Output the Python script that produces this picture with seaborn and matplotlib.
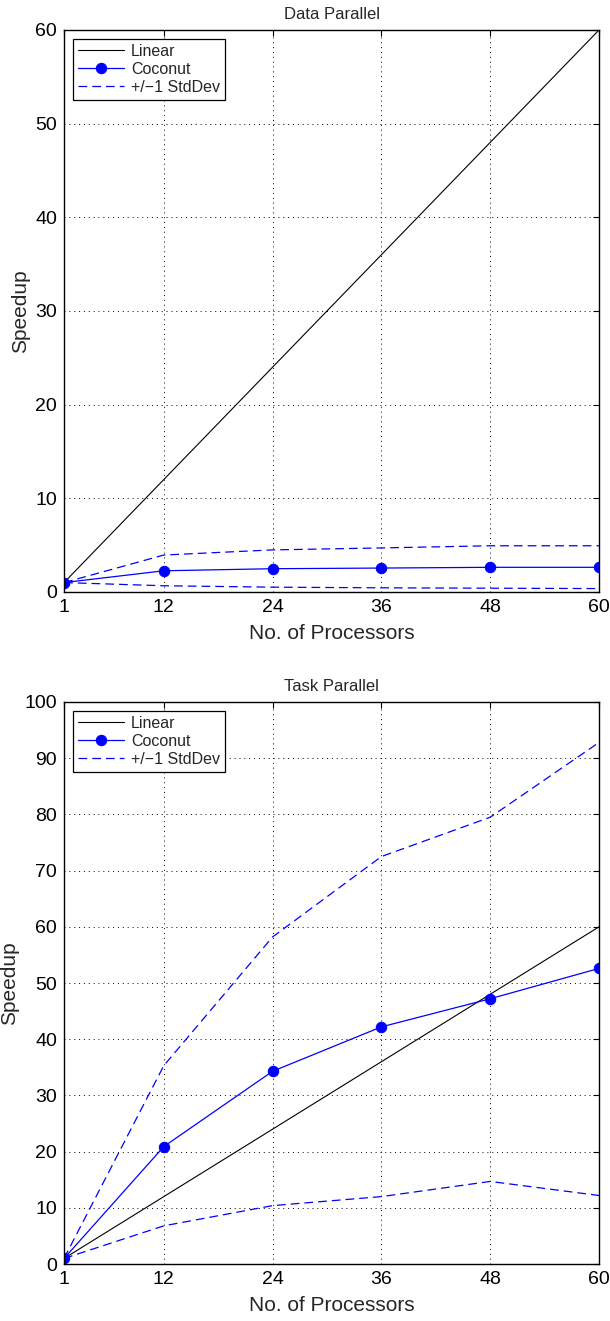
import numpy as np
import pandas as pd
import matplotlib
matplotlib.use("Agg")
import matplotlib.pyplot as plt
import seaborn as sns

# Processor counts and measured speedups
processors = [1, 12, 24, 36, 48, 60]
linear = [1, 12, 24, 36, 48, 60]

data_mean = [1.0, 2.26, 2.48, 2.55, 2.63, 2.63]
data_upper = [1.0, 3.94, 4.49, 4.70, 4.93, 4.93]
data_lower = [1.0, 0.66, 0.51, 0.44, 0.40, 0.36]

task_mean = [1.0, 20.9, 34.3, 42.2, 47.2, 52.6]
task_upper = [1.0, 35.3, 58.2, 72.5, 79.5, 92.8]
task_lower = [1.0, 6.8, 10.4, 12.0, 14.7, 12.2]

titles = ["Data Parallel", "Task Parallel"]
y_limits = [(0, 60), (0, 100)]
y_ticks = [list(range(0, 61, 10)), list(range(0, 101, 10))]

sns.set_style("white")
plt.rcParams["font.family"] = ["Liberation Sans", "DejaVu Sans"]

fig = plt.figure(figsize=(6.1, 13.21), dpi=100)
ax_top = fig.add_axes([0.105, 0.5519, 0.877, 0.4254])
ax_bot = fig.add_axes([0.105, 0.0431, 0.877, 0.4255])

panels = [
    (ax_top, data_mean, data_upper, data_lower),
    (ax_bot, task_mean, task_upper, task_lower),
]

for i, (ax, mean, upper, lower) in enumerate(panels):
    df = pd.DataFrame({"p": processors, "lin": linear, "mean": mean,
                       "up": upper, "lo": lower})
    sns.lineplot(data=df, x="p", y="lin", ax=ax, color="black", lw=0.8,
                 label="Linear")
    sns.lineplot(data=df, x="p", y="mean", ax=ax, color="#0000ff", lw=0.9,
                 marker="o", markersize=7.5, markeredgecolor="#0000ff",
                 label="Coconut")
    sns.lineplot(data=df, x="p", y="up", ax=ax, color="#0000ff", lw=0.9,
                 linestyle=(0, (7, 4)), label="+/\u22121 StdDev")
    sns.lineplot(data=df, x="p", y="lo", ax=ax, color="#0000ff", lw=0.9,
                 linestyle=(0, (7, 4)), label="_nolegend_")

    ax.set_xlim(1, 60)
    ax.set_ylim(*y_limits[i])
    ax.set_xticks(processors)
    ax.set_yticks(y_ticks[i])
    ax.tick_params(axis="both", direction="in", length=4, width=0.8,
                   labelsize=14, top=True, right=True, pad=5, colors="black")
    ax.grid(True, linestyle=(0, (1, 4)), color="black", lw=0.7)
    for s in ax.spines.values():
        s.set_color("black")
        s.set_linewidth(1.0)
    ax.set_title(titles[i], fontsize=12, pad=8)
    ax.set_xlabel("No. of Processors", fontsize=15, labelpad=6)
    ax.set_ylabel("Speedup", fontsize=15, labelpad=4)
    leg = ax.legend(loc="upper left", fontsize=11.5, frameon=True,
                    fancybox=False, framealpha=1, edgecolor="black",
                    borderpad=0.3, labelspacing=0.2, handlelength=2.9,
                    handletextpad=0.45, borderaxespad=0.55)
    leg.get_frame().set_linewidth(0.9)

fig.savefig("out.png", dpi=100)
